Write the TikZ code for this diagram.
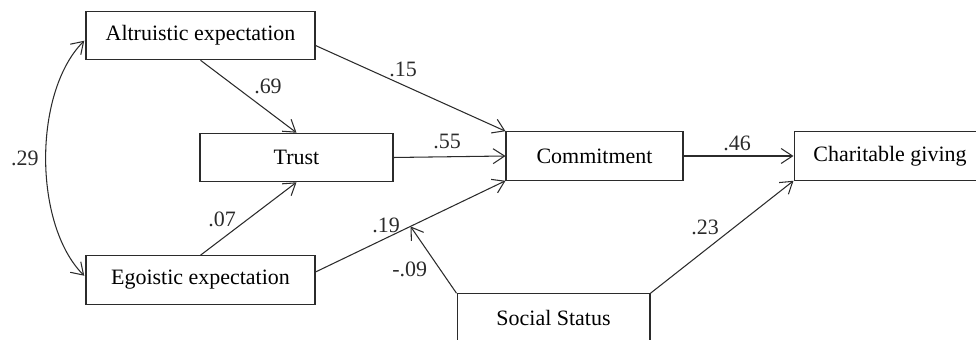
\documentclass[tikz,border=0pt]{standalone}
\usepackage{fontspec}
\setmainfont{Liberation Serif}
\usepackage{tikz}
\usetikzlibrary{calc,arrows.meta,positioning}
\definecolor{sem-line}{HTML}{2B2B2B}
\tikzset{
  var/.style={draw=sem-line, rectangle, inner sep=0pt, minimum height=0.97cm},
  coef/.style={inner sep=0pt},
}

\begin{document}
\begin{tikzpicture}[x=0.02cm, y=-0.02cm, >={Straight Barb[length=6.5pt,width=8.5pt]},
  line width=0.6pt, font=\fontsize{12.5}{15}\selectfont]
\useasboundingbox (0,0) rectangle (976,340);
\clip (0,0) rectangle (976,340);
\node[var, minimum width=4.58cm] (alt) at (200.5,35.5) {Altruistic expectation};
\node[var, minimum width=3.86cm] (trust) at (296.5,157.5) {Trust};
\node[var, minimum width=4.58cm] (ego) at (200.5,280) {Egoistic expectation};
\node[var, minimum width=3.54cm] (com) at (594.5,156) {Commitment};
\node[var, minimum width=3.84cm] (cha) at (890,156) {Charitable giving};
\node[var, minimum width=3.86cm] (soc) at (553.5,318) {Social Status};
\draw[<->, sem-line, shorten <=1pt, shorten >=1pt] ([yshift=-0.08cm]alt.west) to[out=225, in=135, looseness=0.8] node[midway,left,coef,xshift=-4pt] {.29} ([yshift=0.06cm]ego.west);
\draw[->, sem-line] (alt.south) -- node[coef,midway,xshift=0.39cm,yshift=0.21cm] {.69} (trust.north);
\draw[->, sem-line] (ego.north) -- node[coef,midway,xshift=-0.53cm,yshift=-0.02cm] {.07} (trust.south);
\draw[->, sem-line] ([yshift=-0.2cm]alt.east) -- node[coef,midway,xshift=-0.15cm,yshift=0.375cm] {.15} (com.north west);
\draw[->, sem-line] (trust.east) -- node[coef,midway,xshift=-0.05cm,yshift=0.3cm] {.55} (com.west);
\draw[->, sem-line] ([yshift=0.16cm]ego.east) -- coordinate[pos=0.5] (mid) node[coef,midway,xshift=-0.49cm,yshift=0.02cm] {.19} (com.south west);
\draw[->, sem-line] (soc.north west) -- node[coef,midway,xshift=-0.475cm,yshift=-0.2cm] {-.09} (mid);
\draw[->, sem-line] (com.east) -- node[coef,midway,xshift=-0.03cm,yshift=0.26cm] {.46} (cha.west);
\draw[->, sem-line] (soc.north east) -- node[coef,midway,xshift=-0.34cm,yshift=0.2cm] {.23} (cha.south west);
\end{tikzpicture}
\end{document}
